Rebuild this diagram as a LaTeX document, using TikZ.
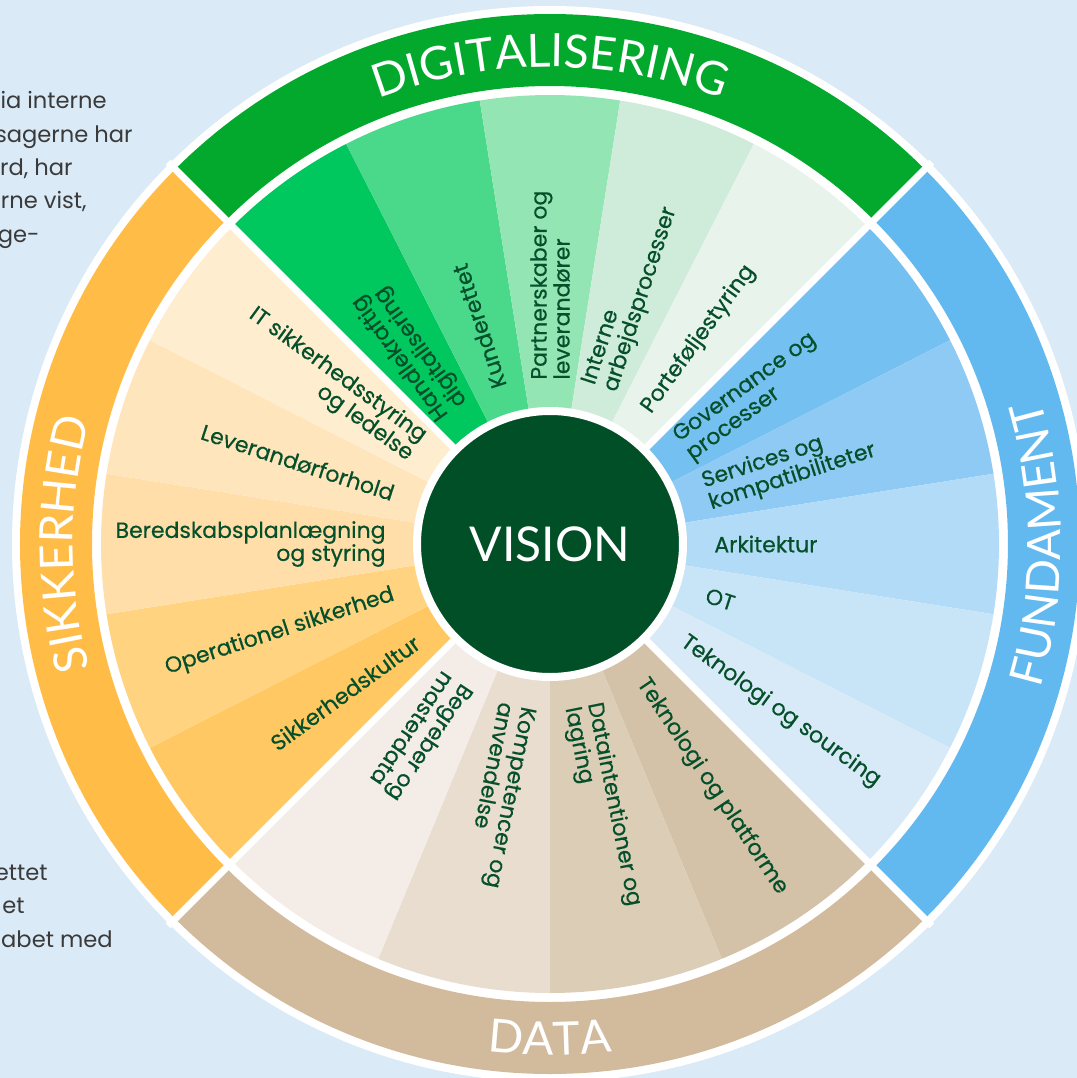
\documentclass[tikz,border=0pt]{standalone}
\usepackage{fontspec}
\setmainfont{Poppins}
\newfontfamily\titlefont{Lato}
\newfontfamily\labelfont{Poppins}[FakeBold=0.5]
\usepackage{xcolor}
\usepackage{tikz}
\usetikzlibrary{decorations.text}

\definecolor{bgblue}{HTML}{DAEAF6}
\definecolor{digband}{HTML}{03A92D}
\definecolor{digA}{HTML}{00C75E}
\definecolor{digB}{HTML}{4AD88B}
\definecolor{digC}{HTML}{94E5B4}
\definecolor{digD}{HTML}{CFECDA}
\definecolor{digE}{HTML}{E8F3EC}
\definecolor{fundband}{HTML}{62B9EF}
\definecolor{fundA}{HTML}{73C0F1}
\definecolor{fundB}{HTML}{8FCAF4}
\definecolor{fundC}{HTML}{B2DBF7}
\definecolor{fundD}{HTML}{C8E5F8}
\definecolor{fundE}{HTML}{D8EAF7}
\definecolor{databand}{HTML}{D2BB9D}
\definecolor{dataA}{HTML}{F4EDE7}
\definecolor{dataB}{HTML}{E9DDD0}
\definecolor{dataC}{HTML}{DCCDB6}
\definecolor{dataD}{HTML}{D3C2A7}
\definecolor{sikband}{HTML}{FFBD47}
\definecolor{sikA}{HTML}{FFEDD0}
\definecolor{sikB}{HTML}{FFE5BC}
\definecolor{sikC}{HTML}{FFDEAA}
\definecolor{sikD}{HTML}{FFD380}
\definecolor{sikE}{HTML}{FFC862}
\definecolor{visiongreen}{HTML}{004F26}
\definecolor{labelgreen}{HTML}{05502A}
\definecolor{fraggray}{HTML}{3A3A3A}

\newcommand{\bandfont}{\titlefont\fontsize{23}{23}\selectfont}

\begin{document}
\begin{tikzpicture}[
  x=0.5pt, y=0.5pt,
  lbl/.style={font=\labelfont\fontsize{11}{11.5}\selectfont, text=labelgreen, inner sep=0pt},
  lblout/.style={lbl, anchor=west, align=left},
  lblin/.style={lbl, anchor=east, align=right},
  sep/.style={white, line width=3.5pt},
  bandtext/.style={decorate, decoration={text along path, text align=center, text color=white, text={|\bandfont|#1}}},
  vision/.style={circle, fill=visiongreen, draw=white, line width=4pt, minimum size=133pt, inner sep=0pt, text=white, font=\titlefont\fontsize{24}{24}\selectfont},
  frag/.style={font=\fontsize{11.3}{13}\selectfont, text=fraggray, anchor=base east, inner sep=0pt}
]
\useasboundingbox (-550,-534) rectangle (527,544);
\fill[bgblue] (-550,-534) rectangle (527,544);
\clip (-550,-534) rectangle (527,544);

\node[frag] (txtA) at (-443,436) {ia interne};
\node[frag] (txtB) at (-417,402) {sagerne har};
\node[frag] (txtC) at (-477,369) {erd, har};
\node[frag] (txtD) at (-463,336) {rne vist,};
\node[frag] (txtE) at (-510,302) {ge-};
\node[frag] (txtF) at (-502,-336) {ettet};
\node[frag] (txtG) at (-525,-369) {et};
\node[frag] (txtH) at (-437,-403) {abet med};

\fill[white] (0,0) circle[radius=538];
\fill[digband] (135:458) arc[start angle=135, end angle=45, radius=458] -- (45:530) arc[start angle=45, end angle=135, radius=530] -- cycle;
\fill[fundband] (45:458) arc[start angle=45, end angle=-45, radius=458] -- (-45:530) arc[start angle=-45, end angle=45, radius=530] -- cycle;
\fill[databand] (-45:458) arc[start angle=-45, end angle=-135, radius=458] -- (-135:530) arc[start angle=-135, end angle=-45, radius=530] -- cycle;
\fill[sikband] (225:458) arc[start angle=225, end angle=135, radius=458] -- (135:530) arc[start angle=135, end angle=225, radius=530] -- cycle;

\foreach \a/\b/\c in {135/117/digA, 117/99/digB, 99/81/digC, 81/63/digD, 63/45/digE,
  45/27/fundA, 27/9/fundB, 9/-9/fundC, -9/-27/fundD, -27/-45/fundE,
  -45/-67.5/dataD, -67.5/-90/dataC, -90/-112.5/dataB, -112.5/-135/dataA,
  225/207/sikE, 207/189/sikD, 189/171/sikC, 171/153/sikB, 153/135/sikA}
  \fill[\c] (0,0) -- (\a:449) arc[start angle=\a, end angle=\b, radius=449] -- cycle;

\draw[sep] (0,0) -- (45:540);
\draw[sep] (0,0) -- (135:540);
\draw[sep] (0,0) -- (225:540);
\draw[sep] (0,0) -- (315:540);

\path[bandtext=DIGITALISERING] (135:477) arc[start angle=135, end angle=45, radius=477];
\path[bandtext=FUNDAMENT] (-45:511) arc[start angle=-45, end angle=45, radius=511];
\path[bandtext=DATA] (-135:511) arc[start angle=-135, end angle=-45, radius=511];
\path[bandtext=SIKKERHED] (225:477) arc[start angle=225, end angle=135, radius=477];

\node[vision] (center) at (0,0) {VISION};

\node[lblout, rotate=126] (handlekraft) at (126:164) {Handlekraftig\\digitalisering};
\node[lblout, rotate=108] (kunde) at (108:164) {Kunderettet};
\node[lblout, rotate=90] (partner) at (90:164) {Partnerskaber og\\leverandører};
\node[lblout, rotate=72] (interne) at (72:164) {Interne\\arbejdsprocesser};
\node[lblout, rotate=54] (portefolje) at (54:164) {Porteføljestyring};

\node[lblout, rotate=36] (governance) at (36:164) {Governance og\\processer};
\node[lblout, rotate=18] (services) at (18:164) {Services og\\kompatibiliteter};
\node[lblout] (arkitektur) at (0:164) {Arkitektur};
\node[lblout, rotate=-18] (ot) at (-18:164) {OT};
\node[lblout, rotate=-36] (sourcing) at (-36:164) {Teknologi og sourcing};

\node[lblout, rotate=-56.25] (platforme) at (-56.25:164) {Teknologi og platforme};
\node[lblout, rotate=-78.75] (lagring) at (-78.75:164) {Dataintentioner og\\lagring};
\node[lblout, rotate=-101.25] (kompetence) at (-101.25:164) {Kompetencer og\\anvendelse};
\node[lblout, rotate=-123.75] (begreber) at (-123.75:164) {Begreber og\\masterdata};

\node[lblin, rotate=-36] (itsikker) at (144:164) {IT sikkerhedsstyring\\og ledelse};
\node[lblin, rotate=-18] (leverandor) at (162:164) {Leverandørforhold};
\node[lblin] (beredskab) at (180:164) {Beredskabsplanlægning\\og styring};
\node[lblin, rotate=18] (operationel) at (198:164) {Operationel sikkerhed};
\node[lblin, rotate=36] (kultur) at (216:164) {Sikkerhedskultur};
\end{tikzpicture}
\end{document}
